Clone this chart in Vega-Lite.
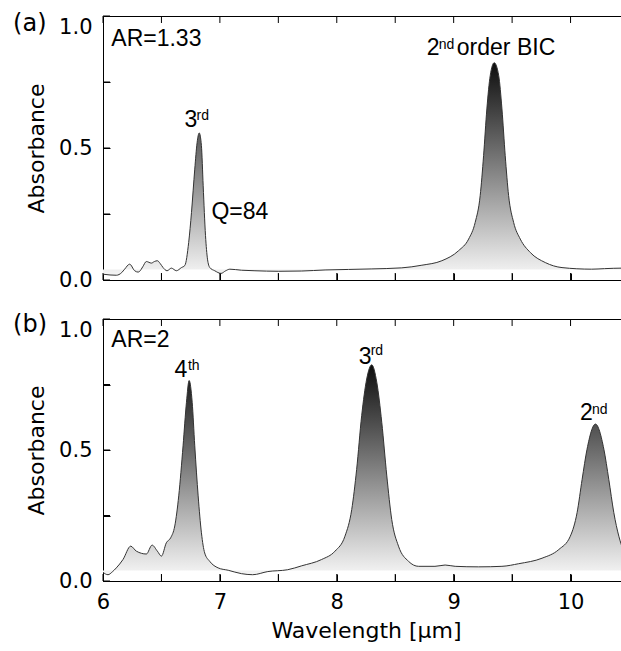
{
  "$schema": "https://vega.github.io/schema/vega-lite/v6.json",
  "padding": {"left": 12, "top": 11, "right": 0, "bottom": 0},
  "background": "white",
  "config": {
    "view": {"stroke": "black", "strokeWidth": 1},
    "axis": {"grid": false, "domain": false, "ticks": true, "tickSize": 7, "tickColor": "black", "labelFont": "DejaVu Sans", "labelFontSize": 21, "labelColor": "black", "titleFont": "DejaVu Sans", "titleFontSize": 22, "titleFontWeight": "normal", "titleColor": "black"}
  },
  "datasets": {
    "tx": [{"v": 6}, {"v": 6.5}, {"v": 7}, {"v": 7.5}, {"v": 8}, {"v": 8.5}, {"v": 9}, {"v": 9.5}, {"v": 10}, {"v": 10.5}],
    "ty": [{"v": 0}, {"v": 0.25}, {"v": 0.5}, {"v": 0.75}, {"v": 1}],
    "a": [
      {"w": 6.0, "a": 0.022}, {"w": 6.06, "a": 0.019}, {"w": 6.114, "a": 0.018}, {"w": 6.16, "a": 0.028}, {"w": 6.185, "a": 0.041}, {"w": 6.228, "a": 0.06}, {"w": 6.271, "a": 0.035}, {"w": 6.3, "a": 0.03}, {"w": 6.314, "a": 0.033}, {"w": 6.34, "a": 0.05}, {"w": 6.371, "a": 0.07}, {"w": 6.414, "a": 0.064}, {"w": 6.44, "a": 0.07}, {"w": 6.465, "a": 0.073}, {"w": 6.49, "a": 0.062}, {"w": 6.514, "a": 0.047}, {"w": 6.548, "a": 0.035}, {"w": 6.585, "a": 0.045}, {"w": 6.628, "a": 0.035}, {"w": 6.671, "a": 0.047}, {"w": 6.7, "a": 0.055}, {"w": 6.733, "a": 0.142}, {"w": 6.757, "a": 0.256}, {"w": 6.785, "a": 0.42}, {"w": 6.805, "a": 0.52}, {"w": 6.823, "a": 0.557}, {"w": 6.842, "a": 0.509}, {"w": 6.857, "a": 0.357}, {"w": 6.877, "a": 0.168}, {"w": 6.894, "a": 0.079}, {"w": 6.914, "a": 0.047}, {"w": 6.956, "a": 0.035}, {"w": 7.01, "a": 0.025}, {"w": 7.05, "a": 0.035}, {"w": 7.085, "a": 0.041}, {"w": 7.185, "a": 0.037}, {"w": 7.3, "a": 0.035}, {"w": 7.5, "a": 0.033}, {"w": 7.7, "a": 0.034}, {"w": 7.9, "a": 0.038}, {"w": 8.1, "a": 0.04}, {"w": 8.3, "a": 0.042}, {"w": 8.556, "a": 0.046}, {"w": 8.728, "a": 0.056}, {"w": 8.899, "a": 0.073}, {"w": 9.042, "a": 0.111}, {"w": 9.128, "a": 0.155}, {"w": 9.184, "a": 0.218}, {"w": 9.227, "a": 0.32}, {"w": 9.256, "a": 0.471}, {"w": 9.284, "a": 0.648}, {"w": 9.313, "a": 0.775}, {"w": 9.347, "a": 0.823}, {"w": 9.385, "a": 0.775}, {"w": 9.413, "a": 0.648}, {"w": 9.441, "a": 0.471}, {"w": 9.47, "a": 0.32}, {"w": 9.513, "a": 0.218}, {"w": 9.57, "a": 0.155}, {"w": 9.656, "a": 0.104}, {"w": 9.784, "a": 0.066}, {"w": 9.927, "a": 0.047}, {"w": 10.18, "a": 0.041}, {"w": 10.29, "a": 0.043}, {"w": 10.44, "a": 0.045}, {"w": 10.5, "a": 0.045}
    ],
    "b": [
      {"w": 6.0, "a": 0.033}, {"w": 6.043, "a": 0.024}, {"w": 6.08, "a": 0.035}, {"w": 6.114, "a": 0.05}, {"w": 6.171, "a": 0.082}, {"w": 6.237, "a": 0.133}, {"w": 6.285, "a": 0.114}, {"w": 6.371, "a": 0.103}, {"w": 6.42, "a": 0.137}, {"w": 6.465, "a": 0.114}, {"w": 6.5, "a": 0.095}, {"w": 6.542, "a": 0.146}, {"w": 6.579, "a": 0.165}, {"w": 6.614, "a": 0.21}, {"w": 6.648, "a": 0.325}, {"w": 6.685, "a": 0.516}, {"w": 6.714, "a": 0.682}, {"w": 6.737, "a": 0.765}, {"w": 6.763, "a": 0.682}, {"w": 6.785, "a": 0.516}, {"w": 6.814, "a": 0.325}, {"w": 6.842, "a": 0.184}, {"w": 6.87, "a": 0.107}, {"w": 6.913, "a": 0.075}, {"w": 6.985, "a": 0.05}, {"w": 7.071, "a": 0.041}, {"w": 7.185, "a": 0.028}, {"w": 7.28, "a": 0.024}, {"w": 7.41, "a": 0.036}, {"w": 7.58, "a": 0.043}, {"w": 7.7, "a": 0.058}, {"w": 7.87, "a": 0.082}, {"w": 7.985, "a": 0.114}, {"w": 8.07, "a": 0.171}, {"w": 8.128, "a": 0.273}, {"w": 8.17, "a": 0.426}, {"w": 8.213, "a": 0.631}, {"w": 8.256, "a": 0.771}, {"w": 8.299, "a": 0.825}, {"w": 8.342, "a": 0.759}, {"w": 8.385, "a": 0.605}, {"w": 8.428, "a": 0.401}, {"w": 8.47, "a": 0.235}, {"w": 8.528, "a": 0.133}, {"w": 8.614, "a": 0.075}, {"w": 8.7, "a": 0.056}, {"w": 8.84, "a": 0.056}, {"w": 8.927, "a": 0.061}, {"w": 9.013, "a": 0.056}, {"w": 9.213, "a": 0.054}, {"w": 9.413, "a": 0.056}, {"w": 9.556, "a": 0.066}, {"w": 9.756, "a": 0.087}, {"w": 9.899, "a": 0.12}, {"w": 9.998, "a": 0.171}, {"w": 10.056, "a": 0.261}, {"w": 10.099, "a": 0.388}, {"w": 10.141, "a": 0.503}, {"w": 10.213, "a": 0.599}, {"w": 10.285, "a": 0.503}, {"w": 10.327, "a": 0.388}, {"w": 10.37, "a": 0.261}, {"w": 10.413, "a": 0.171}, {"w": 10.45, "a": 0.12}, {"w": 10.5, "a": 0.09}
    ],
    "annA": [
      {"x": 5.231, "y": 0.97, "t": "(a)", "k": "panel"},
      {"x": 6.071, "y": 0.886, "t": "AR=1.33", "k": "main"},
      {"x": 6.697, "y": 0.579, "t": "3", "k": "main"},
      {"x": 6.8, "y": 0.605, "t": "rd", "k": "sup"},
      {"x": 6.928, "y": 0.23, "t": "Q=84", "k": "main"},
      {"x": 8.77, "y": 0.851, "t": "2", "k": "main"},
      {"x": 8.873, "y": 0.876, "t": "nd", "k": "sup"},
      {"x": 9.027, "y": 0.851, "t": "order BIC", "k": "main"}
    ],
    "annB": [
      {"x": 5.231, "y": 0.979, "t": "(b)", "k": "panel"},
      {"x": 6.071, "y": 0.893, "t": "AR=2", "k": "main"},
      {"x": 6.611, "y": 0.778, "t": "4", "k": "main"},
      {"x": 6.727, "y": 0.805, "t": "th", "k": "sup"},
      {"x": 8.188, "y": 0.828, "t": "3", "k": "main"},
      {"x": 8.29, "y": 0.862, "t": "rd", "k": "sup"},
      {"x": 10.081, "y": 0.613, "t": "2", "k": "main"},
      {"x": 10.184, "y": 0.637, "t": "nd", "k": "sup"}
    ]
  },
  "spacing": 39,
  "bounds": "flush",
  "vconcat": [
    {
      "width": 526,
      "height": 264,
      "resolve": {"axis": {"x": "independent", "y": "independent"}},
      "layer": [
        {
          "data": {"name": "a"},
          "mark": {"type": "area", "interpolate": "monotone", "fill": {"gradient": "linear", "x1": 0, "y1": 0, "x2": 0, "y2": 1, "stops": [{"offset": 0, "color": "#0d0d0d"}, {"offset": 1, "color": "#f5f5f5"}]}},
          "encoding": {
            "x": {"field": "w", "type": "quantitative", "scale": {"domain": [6, 10.5], "nice": false}, "axis": {"orient": "bottom", "offset": -7, "values": [6, 6.5, 7, 7.5, 8, 8.5, 9, 9.5, 10, 10.5], "labels": false, "title": null}},
            "y": {"field": "a", "type": "quantitative", "scale": {"domain": [0, 1], "nice": false}, "axis": {"orient": "left", "offset": -7, "values": [0, 0.25, 0.5, 0.75, 1], "labelExpr": "datum.value % 0.5 == 0 ? format(datum.value, '.1f') : ''", "labelBaseline": {"condition": {"test": "datum.value == 1", "value": "top"}, "value": "middle"}, "labelPadding": 11, "title": "Absorbance", "titlePadding": 10}},
            "y2": {"datum": 0.04}
          }
        },
        {
          "data": {"name": "a"},
          "mark": {"type": "line", "interpolate": "monotone", "color": "#333333", "strokeWidth": 1},
          "encoding": {
            "x": {"field": "w", "type": "quantitative", "scale": {"domain": [6, 10.5], "nice": false}, "axis": null},
            "y": {"field": "a", "type": "quantitative", "scale": {"domain": [0, 1], "nice": false}, "axis": null}
          }
        },
        {
          "data": {"name": "tx"},
          "mark": {"type": "rule", "color": "black", "strokeWidth": 1},
          "encoding": {
            "x": {"field": "v", "type": "quantitative", "scale": {"domain": [6, 10.5], "nice": false}, "axis": null},
            "y": {"datum": 0, "type": "quantitative", "scale": {"domain": [0, 1], "nice": false}, "axis": null},
            "y2": {"datum": 0.0265}
          }
        },
        {
          "data": {"name": "tx"},
          "mark": {"type": "rule", "color": "black", "strokeWidth": 1},
          "encoding": {
            "x": {"field": "v", "type": "quantitative", "scale": {"domain": [6, 10.5], "nice": false}, "axis": null},
            "y": {"datum": 1, "type": "quantitative", "scale": {"domain": [0, 1], "nice": false}, "axis": null},
            "y2": {"datum": 0.9735}
          }
        },
        {
          "data": {"name": "ty"},
          "mark": {"type": "rule", "color": "black", "strokeWidth": 1},
          "encoding": {
            "y": {"field": "v", "type": "quantitative", "scale": {"domain": [0, 1], "nice": false}, "axis": null},
            "x": {"datum": 6, "type": "quantitative", "scale": {"domain": [6, 10.5], "nice": false}, "axis": null},
            "x2": {"datum": 6.06}
          }
        },
        {
          "data": {"name": "ty"},
          "mark": {"type": "rule", "color": "black", "strokeWidth": 1},
          "encoding": {
            "y": {"field": "v", "type": "quantitative", "scale": {"domain": [0, 1], "nice": false}, "axis": null},
            "x": {"datum": 10.5, "type": "quantitative", "scale": {"domain": [6, 10.5], "nice": false}, "axis": null},
            "x2": {"datum": 10.44}
          }
        },
        {
          "data": {"name": "annA"},
          "transform": [{"filter": "datum.k == 'main'"}],
          "mark": {"type": "text", "align": "left", "baseline": "alphabetic", "font": "Liberation Sans", "fontSize": 23, "color": "black"},
          "encoding": {
            "x": {"field": "x", "type": "quantitative", "scale": {"domain": [6, 10.5], "nice": false}, "axis": null},
            "y": {"field": "y", "type": "quantitative", "scale": {"domain": [0, 1], "nice": false}, "axis": null},
            "text": {"field": "t"}
          }
        },
        {
          "data": {"name": "annA"},
          "transform": [{"filter": "datum.k == 'sup'"}],
          "mark": {"type": "text", "align": "left", "baseline": "alphabetic", "font": "Liberation Sans", "fontSize": 14, "color": "black"},
          "encoding": {
            "x": {"field": "x", "type": "quantitative", "scale": {"domain": [6, 10.5], "nice": false}, "axis": null},
            "y": {"field": "y", "type": "quantitative", "scale": {"domain": [0, 1], "nice": false}, "axis": null},
            "text": {"field": "t"}
          }
        },
        {
          "data": {"name": "annA"},
          "transform": [{"filter": "datum.k == 'panel'"}],
          "mark": {"type": "text", "align": "left", "baseline": "middle", "font": "DejaVu Sans", "fontSize": 24, "color": "black"},
          "encoding": {
            "x": {"field": "x", "type": "quantitative", "scale": {"domain": [6, 10.5], "nice": false}, "axis": null},
            "y": {"field": "y", "type": "quantitative", "scale": {"domain": [0, 1], "nice": false}, "axis": null},
            "text": {"field": "t"}
          }
        }
      ]
    },
    {
      "width": 526,
      "height": 262,
      "resolve": {"axis": {"x": "independent", "y": "independent"}},
      "layer": [
        {
          "data": {"name": "b"},
          "mark": {"type": "area", "interpolate": "monotone", "fill": {"gradient": "linear", "x1": 0, "y1": 0, "x2": 0, "y2": 1, "stops": [{"offset": 0, "color": "#0d0d0d"}, {"offset": 1, "color": "#f5f5f5"}]}},
          "encoding": {
            "x": {"field": "w", "type": "quantitative", "scale": {"domain": [6, 10.5], "nice": false}, "axis": {"orient": "bottom", "offset": -7, "values": [6, 6.5, 7, 7.5, 8, 8.5, 9, 9.5, 10, 10.5], "labelExpr": "datum.value % 1 == 0 ? format(datum.value, 'd') : ''", "labelFlush": false, "labelPadding": 10, "title": "Wavelength [μm]", "titlePadding": 8}},
            "y": {"field": "a", "type": "quantitative", "scale": {"domain": [0, 1], "nice": false}, "axis": {"orient": "left", "offset": -7, "values": [0, 0.25, 0.5, 0.75, 1], "labelExpr": "datum.value % 0.5 == 0 ? format(datum.value, '.1f') : ''", "labelBaseline": {"condition": {"test": "datum.value == 1", "value": "top"}, "value": "middle"}, "labelPadding": 11, "title": "Absorbance", "titlePadding": 10}},
            "y2": {"datum": 0.04}
          }
        },
        {
          "data": {"name": "b"},
          "mark": {"type": "line", "interpolate": "monotone", "color": "#333333", "strokeWidth": 1},
          "encoding": {
            "x": {"field": "w", "type": "quantitative", "scale": {"domain": [6, 10.5], "nice": false}, "axis": null},
            "y": {"field": "a", "type": "quantitative", "scale": {"domain": [0, 1], "nice": false}, "axis": null}
          }
        },
        {
          "data": {"name": "tx"},
          "mark": {"type": "rule", "color": "black", "strokeWidth": 1},
          "encoding": {
            "x": {"field": "v", "type": "quantitative", "scale": {"domain": [6, 10.5], "nice": false}, "axis": null},
            "y": {"datum": 0, "type": "quantitative", "scale": {"domain": [0, 1], "nice": false}, "axis": null},
            "y2": {"datum": 0.0267}
          }
        },
        {
          "data": {"name": "tx"},
          "mark": {"type": "rule", "color": "black", "strokeWidth": 1},
          "encoding": {
            "x": {"field": "v", "type": "quantitative", "scale": {"domain": [6, 10.5], "nice": false}, "axis": null},
            "y": {"datum": 1, "type": "quantitative", "scale": {"domain": [0, 1], "nice": false}, "axis": null},
            "y2": {"datum": 0.9733}
          }
        },
        {
          "data": {"name": "ty"},
          "mark": {"type": "rule", "color": "black", "strokeWidth": 1},
          "encoding": {
            "y": {"field": "v", "type": "quantitative", "scale": {"domain": [0, 1], "nice": false}, "axis": null},
            "x": {"datum": 6, "type": "quantitative", "scale": {"domain": [6, 10.5], "nice": false}, "axis": null},
            "x2": {"datum": 6.06}
          }
        },
        {
          "data": {"name": "ty"},
          "mark": {"type": "rule", "color": "black", "strokeWidth": 1},
          "encoding": {
            "y": {"field": "v", "type": "quantitative", "scale": {"domain": [0, 1], "nice": false}, "axis": null},
            "x": {"datum": 10.5, "type": "quantitative", "scale": {"domain": [6, 10.5], "nice": false}, "axis": null},
            "x2": {"datum": 10.44}
          }
        },
        {
          "data": {"name": "annB"},
          "transform": [{"filter": "datum.k == 'main'"}],
          "mark": {"type": "text", "align": "left", "baseline": "alphabetic", "font": "Liberation Sans", "fontSize": 23, "color": "black"},
          "encoding": {
            "x": {"field": "x", "type": "quantitative", "scale": {"domain": [6, 10.5], "nice": false}, "axis": null},
            "y": {"field": "y", "type": "quantitative", "scale": {"domain": [0, 1], "nice": false}, "axis": null},
            "text": {"field": "t"}
          }
        },
        {
          "data": {"name": "annB"},
          "transform": [{"filter": "datum.k == 'sup'"}],
          "mark": {"type": "text", "align": "left", "baseline": "alphabetic", "font": "Liberation Sans", "fontSize": 14, "color": "black"},
          "encoding": {
            "x": {"field": "x", "type": "quantitative", "scale": {"domain": [6, 10.5], "nice": false}, "axis": null},
            "y": {"field": "y", "type": "quantitative", "scale": {"domain": [0, 1], "nice": false}, "axis": null},
            "text": {"field": "t"}
          }
        },
        {
          "data": {"name": "annB"},
          "transform": [{"filter": "datum.k == 'panel'"}],
          "mark": {"type": "text", "align": "left", "baseline": "middle", "font": "DejaVu Sans", "fontSize": 24, "color": "black"},
          "encoding": {
            "x": {"field": "x", "type": "quantitative", "scale": {"domain": [6, 10.5], "nice": false}, "axis": null},
            "y": {"field": "y", "type": "quantitative", "scale": {"domain": [0, 1], "nice": false}, "axis": null},
            "text": {"field": "t"}
          }
        }
      ]
    }
  ]
}
